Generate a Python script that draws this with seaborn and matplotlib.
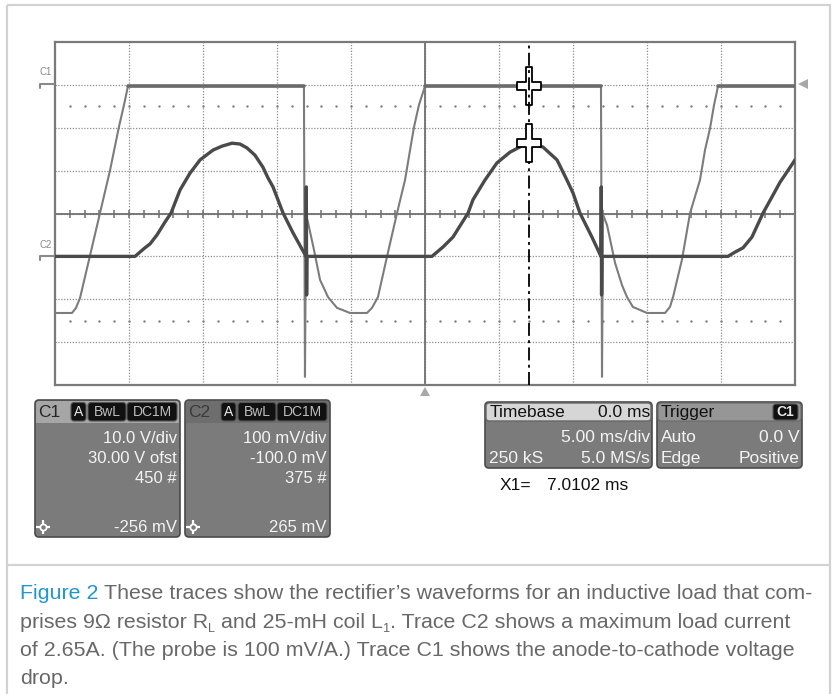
import numpy as np
import matplotlib
matplotlib.use("Agg")
import matplotlib.pyplot as plt
import seaborn as sns
from matplotlib.patches import FancyBboxPatch, Rectangle, Polygon
from matplotlib.path import Path
from matplotlib import font_manager as fm

# ---------------- data ----------------
# C1: anode-to-cathode voltage (V), time in ms (timebase centred on 0 ms)
c1_time_ms = [-25.0, -23.85, -23.58, -23.31, -22.64, -21.96, -21.28, -20.68, -20.34, -20.07,
              -8.18, -8.11, -8.04, -7.91, -7.50, -7.09, -6.55, -5.95, -5.07, -3.92, -3.58, -3.18,
              -2.57, -1.89, -1.35, -1.01, -0.74, -0.41, 0.0,
              11.89, 11.96, 12.03, 12.30, 12.84, 13.31, 13.65, 14.05, 15.00, 16.22, 16.55, 16.76,
              17.36, 17.91, 18.58, 18.92, 19.26, 19.53, 19.80, 25.0]
c1_volts = [-53.2, -53.2, -52.0, -49.7, -39.9, -29.9, -19.9, -9.8, -4.7, -0.3,
            -0.3, -68.1, -30.3, -32.0, -38.5, -45.5, -49.5, -52.0, -53.2, -53.2, -52.0, -49.5,
            -40.1, -29.9, -22.2, -15.2, -9.8, -4.7, -0.3,
            -0.3, -68.1, -30.3, -32.7, -41.5, -46.7, -49.5, -51.8, -53.2, -53.2, -51.8, -49.5,
            -40.8, -29.9, -22.2, -15.2, -10.1, -4.7, -0.3, -0.3]

# C2: load current probe output (mV, probe 100 mV/A)
c2_time_ms = [-25.0, -19.59, -19.26, -18.92, -18.58, -18.11, -17.57, -17.16, -16.55, -15.88,
              -15.20, -14.32, -13.72, -13.04, -12.50, -12.03, -11.49, -10.95, -10.61, -10.27,
              -9.59, -8.92, -8.04, -8.02, -8.00, -7.98,
              0.47, 1.22, 1.89, 2.91, 3.24, 4.05, 4.86, 5.74, 6.96, 7.97, 8.92, 9.59, 10.0,
              10.47, 11.28, 11.89, 11.91, 11.93, 11.95,
              20.47, 20.95, 21.49, 22.09, 22.84, 23.45, 23.99, 24.46, 25.0]
c2_mv = [0, 0, 10, 20, 29, 50, 80, 101, 155, 194,
         225, 248, 257, 264, 262, 253, 236, 208, 183, 162,
         101, 55, 0, 162, -90, 0,
         0, 22, 45, 101, 132, 178, 218, 243, 265, 255, 225, 178, 148,
         101, 45, 0, 162, -90, 0,
         0, 10, 20, 45, 101, 139, 173, 197, 225]

# scope settings
timebase_ms_per_div = 5.0
timebase_pos_ms = 0.0
c1_v_per_div = 10.0
c1_offset_v = 30.0
c2_mv_per_div = 100.0
c2_offset_mv = -100.0
cursor_x1_ms = 7.0102
c1_cursor_mv = -256
c2_cursor_mv = 265

c1_info = ["10.0 V/div", "30.00 V ofst", "450 #"]
c2_info = ["100 mV/div", "-100.0 mV", "375 #"]
caption_lines = [
    [("Figure 2", "blue", False), ("These traces show the rectifier\u2019s waveforms for an inductive load that com-", "gray", False)],
    [("prises 9\u03a9 resistor R", "gray", False), ("L", "gray", True), ("and 25-mH coil L", "gray", False),
     ("1", "gray", True), (". Trace C2 shows a maximum load current", "gray", False)],
    [("of 2.65A. (The probe is 100 mV/A.) Trace C1 shows the anode-to-cathode voltage", "gray", False)],
    [("drop.", "gray", False)],
]

# ---------------- style ----------------
sns.set_style("white")
plt.rcParams["font.family"] = ["Liberation Sans", "DejaVu Sans"]

W, H = 833, 694
fig = plt.figure(figsize=(W / 100, H / 100), dpi=100)
fig.patch.set_facecolor("white")

L, R, T, B = 55, 795, 42, 385
ax = fig.add_axes([L / W, 1 - B / H, (R - L) / W, (B - T) / H])
half = 5 * timebase_ms_per_div
ax.set_xlim(timebase_pos_ms - half, timebase_pos_ms + half)
ax.set_ylim(-4, 4)
ax.set_xticks(np.arange(-half + timebase_ms_per_div, half, timebase_ms_per_div))
ax.set_yticks(np.arange(-3, 4, 1))
ax.grid(True, color="#8c8c8c", linestyle=(0, (1, 1.3)), lw=0.9)
ax.tick_params(length=0, labelleft=False, labelbottom=False)
for s in ax.spines.values():
    s.set_color("#7a7a7a")
    s.set_linewidth(1.6)
ax.axhline(0, color="#707070", lw=1.3, zorder=2)
ax.axvline(0, color="#707070", lw=1.3, zorder=2)
sub = np.arange(-half + 1, half, 1.0)
ax.plot(sub, np.zeros_like(sub), ls="none", marker="|", ms=6, mew=1.1, color="#707070", zorder=2)
for yv in (2.5, -2.5):
    ax.plot(sub, np.full_like(sub, yv), ls="none", marker="o", ms=1.7, mew=0, color="#7a7a7a", zorder=2)

# C1 axis (volts)
ax1 = ax.twinx()
c1_center = -c1_offset_v
ax1.set_ylim(c1_center - 4 * c1_v_per_div, c1_center + 4 * c1_v_per_div)
# C2 axis (mV)
ax2 = ax.twinx()
c2_center = -c2_offset_mv
ax2.set_ylim(c2_center - 4 * c2_mv_per_div, c2_center + 4 * c2_mv_per_div)

sns.lineplot(x=c1_time_ms, y=c1_volts, ax=ax1, sort=False, estimator=None,
             color="#7c7c7c", lw=1.5)
c1_arr = np.array(c1_volts)
ax1.plot(c1_time_ms, np.ma.masked_where(c1_arr < -1, c1_arr), color="#6a6a6a", lw=2.6)
sns.lineplot(x=c2_time_ms, y=c2_mv, ax=ax2, sort=False, estimator=None,
             color="#4a4a4a", lw=2.4)

for a, lim in ((ax1, (c1_center - 4 * c1_v_per_div, c1_center + 4 * c1_v_per_div)),
               (ax2, (c2_center - 4 * c2_mv_per_div, c2_center + 4 * c2_mv_per_div))):
    a.set_xlim(-half, half)
    a.set_ylim(*lim)
    a.set_xlabel("")
    a.set_ylabel("")
    a.set_yticks([])
    a.tick_params(length=0, labelright=False, labelleft=False, labelbottom=False)
    for s in a.spines.values():
        s.set_visible(False)

# cursor line and cross markers
ax2.axvline(cursor_x1_ms, color="black", lw=1.3, ls=(0, (7.2, 2.4, 1.6, 2.4)), zorder=5)
a_, b_, c_, d_ = 3.5, 19, 12.5, 4
plus_verts = [(-a_, b_), (a_, b_), (a_, d_), (c_, d_), (c_, -d_), (a_, -d_), (a_, -b_), (-a_, -b_),
              (-a_, -d_), (-c_, -d_), (-c_, d_), (-a_, d_), (-a_, b_)]
plus_marker = Path(plus_verts, closed=True)
ax1.plot([cursor_x1_ms], [c1_cursor_mv / 1000.0], marker=plus_marker, ms=27, mfc="white",
         mec="black", mew=1.3, zorder=10, ls="none")
ax2.plot([cursor_x1_ms], [c2_cursor_mv], marker=plus_marker, ms=27, mfc="white",
         mec="black", mew=1.3, zorder=10, ls="none")

# ---------------- overlay in pixel coordinates ----------------
ov = fig.add_axes([0, 0, 1, 1])
ov.set_xlim(0, W)
ov.set_ylim(H, 0)
ov.axis("off")
ov.patch.set_alpha(0)

# outer frame and caption divider
ov.add_patch(Rectangle((7, 5), 823, 700, fc="none", ec="#d2d2d2", lw=1.6))
ov.plot([7, 830], [565, 565], color="#d2d2d2", lw=1.6)

# channel ground markers
ov.text(46, 72, "C1", fontsize=7, color="#8a8a8a", ha="center", va="center")
ov.plot([40, 40, 54], [88, 84, 84], color="#8a8a8a", lw=1.5)
ov.text(46, 245, "C2", fontsize=7, color="#8a8a8a", ha="center", va="center")
ov.plot([40, 40, 54], [260, 256, 256], color="#8a8a8a", lw=1.5)
# trigger markers
ov.add_patch(Polygon([(798, 84), (808, 79), (808, 89)], closed=True, fc="#a8a8a8", ec="none"))
ov.add_patch(Polygon([(425, 387), (420, 396), (430, 396)], closed=True, fc="#a8a8a8", ec="none"))


def rbox(x0, y0, x1, y1, fc, ec="none", r=4, lw=1.0, z=3):
    ov.add_patch(FancyBboxPatch((x0, y0), x1 - x0, y1 - y0,
                                boxstyle=f"round,pad=0,rounding_size={r}",
                                fc=fc, ec=ec, lw=lw, zorder=z))


def txt(x, y, s, color="#f4f4f4", ha="left", size=12, z=6):
    ov.text(x, y, s, color=color, ha=ha, va="center", fontsize=size, zorder=z)


body = "#7b7b7b"
edge = "#4a4a4a"


def channel_panel(x0, name, head_fc, name_col, info, reading):
    rbox(x0, 400, x0 + 145, 537, body, edge, r=4, lw=1.2)
    rbox(x0 + 1, 401, x0 + 144, 423, head_fc, r=3, z=4)
    ov.add_patch(Rectangle((x0 + 1, 413), 143, 10, fc=head_fc, ec="none", zorder=4))
    txt(x0 + 3, 412, name, color=name_col, size=12.5)
    for (bx0, bx1, lab, col) in ((36, 51, "A", "#e6e6e6"), (53, 91, "BwL", "#bdbdbd"), (92, 142, "DC1M", "#bdbdbd")):
        rbox(x0 + bx0, 402.5, x0 + bx1, 421, "#111111", "#555555", r=3, lw=0.8, z=5)
        ov.text(x0 + (bx0 + bx1) / 2, 412, lab, color=col, ha="center", va="center", fontsize=10, zorder=6)
    for i, s in enumerate(info):
        txt(x0 + 142, 438 + 20 * i, s, ha="right", size=12)
    txt(x0 + 142, 527, reading, ha="right", size=12)
    ov.plot([x0 + 8], [527], marker="+", ms=10, mew=1.6, color="white", zorder=7)
    ov.plot([x0 + 8], [527], marker="o", ms=4.5, mfc=body, mec="white", mew=1.3, zorder=8)


channel_panel(35, "C1", "#a6a6a6", "#262626", c1_info, f"{c1_cursor_mv} mV")
channel_panel(185, "C2", "#6e6e6e", "#3a3a3a", c2_info, f"{c2_cursor_mv} mV")

# timebase panel
rbox(485, 402, 652, 468, body, edge, r=4, lw=1.2)
rbox(486, 403, 651, 421, "#d6d6d6", "#666666", r=3, lw=1.0, z=4)
txt(490, 412, "Timebase", color="#111111", size=12.5)
txt(650, 412, f"{timebase_pos_ms:.1f} ms", color="#111111", ha="right", size=12.5)
txt(650, 437, f"{timebase_ms_per_div:.2f} ms/div", ha="right", size=12.5)
txt(489, 458, "250 kS", size=12.5)
txt(650, 458, "5.0 MS/s", ha="right", size=12.5)

# trigger panel
rbox(657, 402, 802, 468, body, edge, r=4, lw=1.2)
rbox(658, 403, 801, 421, "#969696", "#6a6a6a", r=3, lw=0.8, z=4)
txt(661, 412, "Trigger", color="#111111", size=12.5)
rbox(773, 404, 798, 420, "#111111", "#555555", r=3, lw=0.8, z=5)
ov.text(785.5, 412, "C1", color="#e6e6e6", ha="center", va="center", fontsize=10, zorder=6, fontweight="bold")
txt(661, 437, "Auto", size=12.5)
txt(800, 437, "0.0 V", ha="right", size=12.5)
txt(661, 458, "Edge", size=12.5)
txt(800, 458, "Positive", ha="right", size=12.5)

# cursor readout
ov.text(500, 485, "X1=", color="#111111", va="center", fontsize=12.5)
ov.text(547, 485, f"{cursor_x1_ms:.4f} ms", color="#111111", va="center", fontsize=12.5)


# ---------------- caption ----------------
def has_font(name):
    try:
        fm.findfont(fm.FontProperties(family=name), fallback_to_default=False)
        return True
    except Exception:
        return False


cap_family = ["Liberation Sans Narrow", "Liberation Sans"] if has_font("Liberation Sans Narrow") else ["Liberation Sans"]
colors = {"blue": "#1f97d2", "gray": "#686868"}
renderer = fig.canvas.get_renderer()


def text_width(s, size):
    t = ov.text(0, 0, s, fontsize=size, family=cap_family)
    w = t.get_window_extent(renderer).width
    t.remove()
    return w


full1 = caption_lines[0][0][0] + " " + caption_lines[0][1][0]
cap_size = 12 * 794 / text_width(full1, 12)
space_w = text_width("x x", cap_size) - text_width("xx", cap_size)

x_start = 20
line_y = [599, 628, 656, 684]
for runs, yb in zip(caption_lines, line_y):
    x = x_start
    prev_sub = False
    for i, (s, col, is_sub) in enumerate(runs):
        if i > 0 and not is_sub and not s.startswith("."):
            x += space_w
        size = cap_size * (0.6 if is_sub else 1.0)
        t = ov.text(x, yb + (4 if is_sub else 0), s, fontsize=size, family=cap_family,
                    color=colors[col], ha="left", va="baseline")
        x += t.get_window_extent(renderer).width

fig.savefig("out.png", dpi=100, facecolor="white")
